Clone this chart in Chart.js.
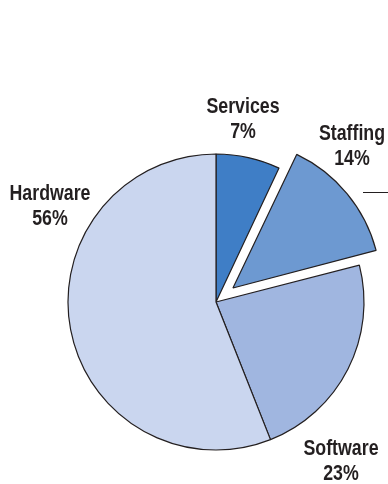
<!DOCTYPE html>
<html>
<head>
<meta charset="utf-8">
<script src="https://cdn.jsdelivr.net/npm/chart.js@4"></script>
<style>
    html, body { margin: 0; padding: 0; background: #ffffff; }
    #wrap { width: 388px; height: 484px; position: relative; }
</style>
</head>
<body>
<div id="wrap"><canvas id="pieChart" width="388" height="484"></canvas></div>
<script>
// Chart data
const categories = ['Services', 'Staffing', 'Software', 'Hardware'];
const shares = [7, 14, 23, 56];
const sliceColors = ['#3f7ec6', '#6d99d1', '#a0b6e0', '#cad6ef'];
// Chart.js moves an arc by offset / 4, so 88 pulls Staffing out ~22px
const explode = [0, 88, 0, 0];

// Where each label sits (centre x, first line baseline y)
const labelSpots = [
    { x: 243, y: 113 },
    { x: 352, y: 140 },
    { x: 341, y: 455 },
    { x: 50, y: 200 }
];

// Chart.js also grows an offset arc a little; keep the exploded slice the same size as the rest
const keepRadius = {
    id: 'keepRadius',
    beforeDatasetsDraw(chart) {
        const meta = chart.getDatasetMeta(0);
        const base = meta.controller.outerRadius;
        meta.data.forEach((arc, i) => {
            const off = (explode[i] || 0) / 4;
            const sweep = arc.endAngle - arc.startAngle;
            const grow = off * (1 - Math.sin(Math.min(Math.PI, sweep)));
            arc.outerRadius = base - grow;
        });
    }
};

const labelPlugin = {
    id: 'sliceLabels',
    afterDraw(chart) {
        const ctx = chart.ctx;
        ctx.save();
        ctx.fillStyle = '#231f20';
        ctx.font = "bold 22px 'Liberation Sans Narrow', 'Liberation Sans', Arial, sans-serif";
        ctx.textAlign = 'center';
        ctx.textBaseline = 'alphabetic';
        // squeeze the text so it looks like the condensed face of the original
        const sx = Math.min(1, 81 / ctx.measureText('Hardware').width);
        categories.forEach((name, i) => {
            const spot = labelSpots[i];
            ctx.save();
            ctx.translate(spot.x, spot.y);
            ctx.scale(sx, 1);
            ctx.fillText(name, 0, 0);
            ctx.fillText(shares[i] + '%', 0, 25);
            ctx.restore();
        });
        // short leader line at the right edge
        ctx.strokeStyle = '#231f20';
        ctx.lineWidth = 1;
        ctx.beginPath();
        ctx.moveTo(363, 192.5);
        ctx.lineTo(388, 192.5);
        ctx.stroke();
        ctx.restore();
    }
};

const ctx = document.getElementById('pieChart').getContext('2d');
new Chart(ctx, {
    type: 'pie',
    data: {
        labels: categories,
        datasets: [{
            data: shares,
            backgroundColor: sliceColors,
            borderColor: '#231f20',
            borderWidth: 1.2,
            offset: explode,
            radius: 148
        }]
    },
    options: {
        responsive: false,
        animation: false,
        layout: {
            padding: { left: 44, right: 0, top: 120, bottom: 0 }
        },
        plugins: {
            legend: { display: false },
            tooltip: { enabled: false }
        }
    },
    plugins: [keepRadius, labelPlugin]
});
</script>
</body>
</html>
